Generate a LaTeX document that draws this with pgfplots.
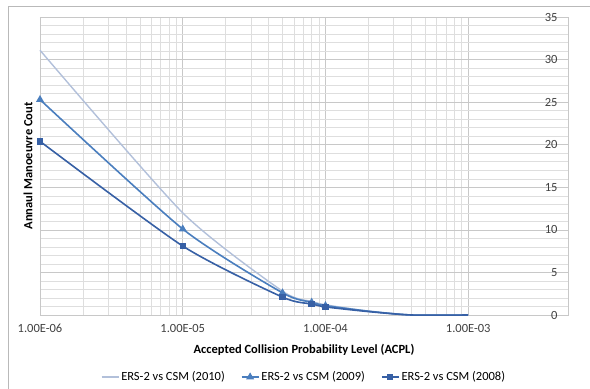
\documentclass[border=0pt]{standalone}
\usepackage{pgfplots}
\pgfplotsset{compat=1.18}
\usepackage{fontspec}
\setmainfont{Carlito}
\definecolor{c2010}{RGB}{178,192,218}
\definecolor{c2009}{RGB}{74,126,190}
\definecolor{c2008}{RGB}{55,96,165}
\definecolor{gmaj}{RGB}{200,200,200}
\definecolor{gmin}{RGB}{222,222,222}
\begin{document}
\begin{tikzpicture}[x=1bp,y=1bp]
\path[use as bounding box] (-40,-73) rectangle (550,315);
\draw[gray!55, line width=0.8bp] (-32,-120) rectangle (620,309);
\begin{axis}[
  at={(0,0)}, anchor=south west,
  scale only axis, width=528bp, height=298bp,
  xmode=log, xmin=1e-6, xmax=5e-3,
  ymin=0, ymax=35,
  xtick={1e-6,1e-5,1e-4,1e-3},
  xticklabels={1.00E-06,1.00E-05,1.00E-04,1.00E-03},
  ytick={0,5,...,35},
  minor y tick num=4,
  grid=both,
  major grid style={gmaj, line width=0.6bp},
  minor grid style={gmin, line width=0.5bp},
  axis line style={gmaj},
  tick style={draw=none},
  /pgf/number format/assume math mode=true,
  yticklabel pos=right,
  yticklabel style={anchor=east, xshift=-7bp, text=black!75},
  xticklabel style={yshift=-6bp, text=black!75},
  ticklabel style={font=\fontsize{12.5bp}{14bp}\selectfont},
  xlabel={\textbf{Accepted Collision Probability Level (ACPL)}},
  ylabel={\textbf{Annaul Manoeuvre Cout}},
  xlabel style={at={(axis description cs:0.5,-0.117)}, anchor=center, font=\fontsize{12.5bp}{14bp}\selectfont},
  ylabel style={at={(axis description cs:-0.0227,0.5)}, anchor=center, rotate=0, font=\fontsize{12.5bp}{14bp}\selectfont},
  legend columns=3,
  legend style={at={(axis description cs:0.5,-0.208)}, anchor=center, draw=none, fill=none,
    font=\fontsize{12.5bp}{14bp}\selectfont, /tikz/every even column/.append style={column sep=14bp}},
  legend cell align=left,
  legend image post style={mark indices={2}},
  clip=false,
]
\addplot[c2010, line width=1.4bp, smooth, tension=0.4, no markers] coordinates {
 (1e-6,31.1) (1e-5,12.0) (5e-5,2.8) (8e-5,1.6) (1e-4,1.2) (2e-4,0.45) (4e-4,0) (1e-3,0)
};
\addlegendentry{ERS-2 vs CSM (2010)}
\addplot[c2009, line width=1.6bp, smooth, tension=0.4, mark=triangle*, mark size=3bp, mark indices={1,...,5}, mark options={solid}] coordinates {
 (1e-6,25.3) (1e-5,10.1) (5e-5,2.6) (8e-5,1.5) (1e-4,1.1) (2e-4,0.45) (4e-4,0) (1e-3,0)
};
\addlegendentry{ERS-2 vs CSM (2009)}
\addplot[c2008, line width=1.6bp, smooth, tension=0.4, mark=square*, mark size=2.4bp, mark indices={1,...,5}, mark options={solid}] coordinates {
 (1e-6,20.4) (1e-5,8.1) (5e-5,2.1) (8e-5,1.3) (1e-4,0.95) (2e-4,0.4) (4e-4,0) (1e-3,0)
};
\addlegendentry{ERS-2 vs CSM (2008)}
\end{axis}
\end{tikzpicture}
\end{document}
